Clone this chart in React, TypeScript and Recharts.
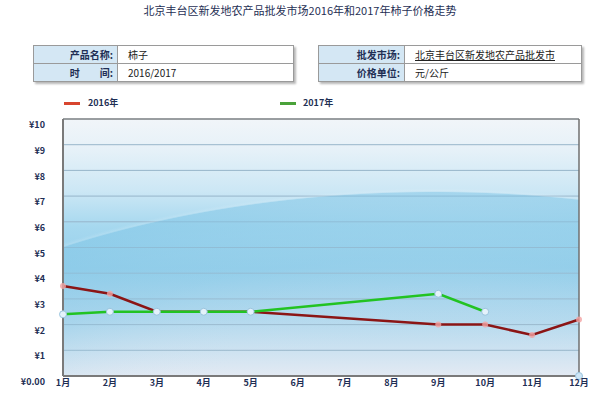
import React from "react";
import {
  CartesianGrid,
  Line,
  LineChart,
  ReferenceArea,
  ReferenceLine,
  XAxis,
  YAxis,
} from "recharts";

const months = ["1月", "2月", "3月", "4月", "5月", "6月", "7月", "8月", "9月", "10月", "11月", "12月"];
const price2016 = [3.5, 3.2, 2.5, 2.5, 2.5, null, null, null, 2.0, 2.0, 1.6, 2.2];
const price2017 = [2.4, 2.5, 2.5, 2.5, 2.5, null, null, null, 3.2, 2.5, null, null];
const price2017Tail = [null, null, null, null, null, null, null, null, null, null, null, 0];
const yTicks = [0, 1, 2, 3, 4, 5, 6, 7, 8, 9, 10];

const data = months.map((m, i) => ({
  month: m,
  y2016: price2016[i],
  y2017: price2017[i],
  y2017b: price2017Tail[i],
}));

const FONT = '"Noto Sans CJK SC", "Noto Sans", sans-serif';
const NAVY = "#1f2f55";

function YTick(props: any) {
  const { x, y, payload } = props;
  const v = payload.value;
  return (
    <text x={x} y={y + 6} dy="0.355em" textAnchor="end" fontSize={9} fill={NAVY} fontFamily={FONT} fontWeight="bold">
      {v === 0 ? "¥0.00" : `¥${v}`}
    </text>
  );
}

function XTick(props: any) {
  const { x, y, payload } = props;
  return (
    <text x={x} y={y + 10} textAnchor="middle" fontSize={9} fill={NAVY} fontFamily={FONT} fontWeight="bold">
      {payload.value}
    </text>
  );
}

function InfoTable({
  left,
  width,
  labelWidth,
  rows,
}: {
  left: number;
  width: number;
  labelWidth: number;
  rows: { label: string; value: string; underline?: boolean }[];
}) {
  return (
    <div
      style={{
        position: "absolute",
        left,
        top: 45,
        width,
        border: "1px solid #9a9a9a",
        boxShadow: "2px 2px 2px #b8b8b8",
        fontFamily: FONT,
        fontSize: 10,
        background: "#fff",
      }}
    >
      {rows.map((r, i) => (
        <div key={i} style={{ display: "flex", height: 17, borderTop: i ? "1px solid #9a9a9a" : "none" }}>
          <div
            style={{
              width: labelWidth,
              background: "#d4e7f4",
              borderRight: "1px solid #9a9a9a",
              textAlign: "right",
              paddingRight: 4,
              boxSizing: "border-box",
              fontWeight: "bold",
              color: NAVY,
              lineHeight: "17px",
              whiteSpace: "pre",
            }}
          >
            {r.label}
          </div>
          <div
            style={{
              paddingLeft: 10,
              lineHeight: "17px",
              color: "#222",
              textDecoration: r.underline ? "underline" : "none",
            }}
          >
            {r.value}
          </div>
        </div>
      ))}
    </div>
  );
}

export default function App() {
  return (
    <div style={{ position: "absolute", left: 0, top: 0, width: 600, height: 400, background: "#fff", fontFamily: FONT }}>
      <div
        style={{
          position: "absolute",
          top: 2,
          left: 0,
          width: 600,
          textAlign: "center",
          fontSize: 11,
          color: NAVY,
        }}
      >
        北京丰台区新发地农产品批发市场2016年和2017年柿子价格走势
      </div>

      <InfoTable
        left={33}
        width={259}
        labelWidth={84}
        rows={[
          { label: "产品名称:", value: "柿子" },
          { label: "时　　间:", value: "2016/2017" },
        ]}
      />
      <InfoTable
        left={318}
        width={262}
        labelWidth={86}
        rows={[
          { label: "批发市场:", value: "北京丰台区新发地农产品批发市", underline: true },
          { label: "价格单位:", value: "元/公斤" },
        ]}
      />

      <div style={{ position: "absolute", left: 64, top: 102, width: 16, height: 3, background: "#d8452f" }} />
      <div style={{ position: "absolute", left: 88, top: 96, fontSize: 9, color: NAVY, fontWeight: "bold" }}>2016年</div>
      <div style={{ position: "absolute", left: 280, top: 102, width: 16, height: 3, background: "#4aa23a" }} />
      <div style={{ position: "absolute", left: 303, top: 96, fontSize: 9, color: NAVY, fontWeight: "bold" }}>2017年</div>

      <div style={{ position: "absolute", left: 0, top: 0 }}>
        <LineChart width={600} height={400} data={data} margin={{ top: 119, right: 21, left: 13, bottom: 0 }}>
          <defs>
            <linearGradient id="bgGrad" x1="0" y1="0" x2="0" y2="1">
              <stop offset="0%" stopColor="#f1f5f9" />
              <stop offset="12%" stopColor="#e6f1f8" />
              <stop offset="28%" stopColor="#cce7f5" />
              <stop offset="42%" stopColor="#a6d8ef" />
              <stop offset="58%" stopColor="#97d0eb" />
              <stop offset="78%" stopColor="#b3d9ee" />
              <stop offset="100%" stopColor="#e3eaf3" />
            </linearGradient>
            <radialGradient id="wave" cx="0.72" cy="1.6" r="1.33">
              <stop offset="0.55" stopColor="#dde8f2" stopOpacity={0} />
              <stop offset="0.8" stopColor="#8ccae7" stopOpacity={0.3} />
              <stop offset="0.988" stopColor="#7fc5e6" stopOpacity={0.5} />
              <stop offset="0.994" stopColor="#ffffff" stopOpacity={0.08} />
              <stop offset="1" stopColor="#ffffff" stopOpacity={0} />
            </radialGradient>
          </defs>
          <CartesianGrid vertical={false} stroke="#98b6ca" fill="url(#bgGrad)" fillOpacity={1} />
          <ReferenceArea y1={0} y2={10} fill="url(#wave)" fillOpacity={1} stroke="none" ifOverflow="visible" />
          <XAxis
            dataKey="month"
            interval={0}
            height={24}
            tickSize={0}
            tickMargin={0}
            tick={<XTick />}
            axisLine={{ stroke: "#7a7a7a", strokeWidth: 2 }}
          />
          <YAxis
            width={50}
            domain={[0, 10]}
            ticks={yTicks}
            tickSize={0}
            tickMargin={18}
            tick={<YTick />}
            axisLine={{ stroke: "#7a7a7a", strokeWidth: 2 }}
          />
          <ReferenceLine y={10} stroke="#8a8a8a" strokeWidth={1.5} />
          <ReferenceLine x="12月" stroke="#6f6f6f" strokeWidth={1.5} />
          <Line
            dataKey="y2016"
            stroke="#8b1515"
            strokeWidth={2.5}
            connectNulls
            isAnimationActive={false}
            dot={{ r: 3, fill: "#f2a3a3", stroke: "none", fillOpacity: 0.8 }}
          />
          <Line
            dataKey="y2017"
            stroke="#22c322"
            strokeWidth={2.5}
            connectNulls
            isAnimationActive={false}
            dot={{ r: 3.5, fill: "#e4f2fb", stroke: "#9ac4de", strokeWidth: 1 }}
          />
          <Line
            dataKey="y2017b"
            stroke="none"
            isAnimationActive={false}
            dot={{ r: 3.5, fill: "#cfe6f6", stroke: "#9ac4de", strokeWidth: 1 }}
          />
        </LineChart>
      </div>
    </div>
  );
}
